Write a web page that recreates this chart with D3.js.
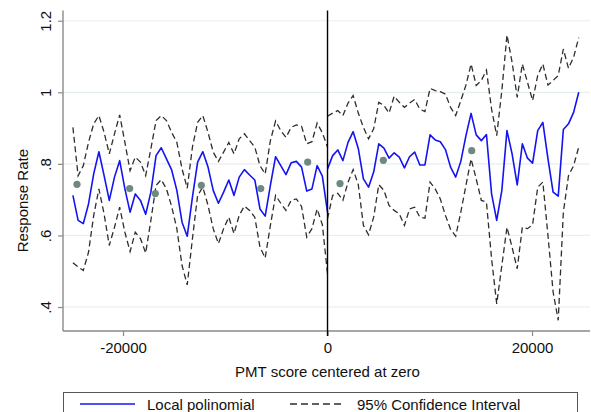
<!DOCTYPE html>
<html>
<head>
<meta charset="utf-8">
<script src="https://cdn.jsdelivr.net/npm/d3@7"></script>
<style>
  html, body { margin: 0; padding: 0; background: #ffffff; }
  svg { display: block; font-family: "Liberation Sans", Arial, sans-serif; }
</style>
</head>
<body>
<svg id="chart" width="591" height="412"></svg>
<script>
// Evaluation grid of the local polynomial, left of the cutoff
const leftX = [-24900,-24392,-23884,-23375,-22867,-22359,-21851,-21343,-20834,-20326,
  -19818,-19310,-18802,-18293,-17785,-17277,-16769,-16261,-15752,-15244,
  -14736,-14228,-13720,-13211,-12703,-12195,-11687,-11179,-10670,-10162,
  -9654,-9146,-8638,-8129,-7621,-7113,-6605,-6097,-5588,-5080,
  -4572,-4064,-3556,-3047,-2539,-2031,-1523,-1015,-506,0];
const leftFit = [.712,.642,.633,.688,.772,.834,.767,.698,.763,.809,
  .730,.665,.716,.698,.659,.721,.823,.845,.814,.783,
  .726,.637,.598,.707,.805,.834,.791,.726,.690,.721,
  .755,.712,.763,.784,.769,.755,.674,.654,.740,.820,
  .795,.770,.803,.807,.791,.724,.730,.795,.766,.665];
const leftHi = [.902,.767,.795,.860,.912,.935,.888,.828,.884,.937,
  .860,.781,.819,.805,.767,.842,.921,.935,.921,.888,
  .860,.786,.732,.847,.916,.935,.888,.833,.807,.833,
  .860,.828,.870,.884,.865,.847,.795,.772,.865,.920,
  .893,.874,.902,.909,.905,.856,.862,.914,.887,.847];
const leftLo = [.524,.512,.502,.553,.656,.730,.660,.572,.623,.679,
  .609,.555,.609,.591,.551,.642,.740,.756,.730,.681,
  .619,.516,.462,.591,.712,.735,.684,.619,.577,.619,
  .651,.605,.656,.682,.670,.651,.567,.537,.628,.712,
  .690,.670,.698,.702,.681,.595,.619,.674,.630,.493];

// Evaluation grid right of the cutoff
const rightX = [0,501,1003,1504,2006,2507,3008,3510,4011,4513,
  5014,5515,6017,6518,7020,7521,8022,8524,9025,9527,
  10028,10529,11031,11532,12034,12535,13036,13538,14039,14541,
  15042,15543,16045,16546,17048,17549,18050,18552,19053,19555,
  20056,20557,21059,21560,22062,22563,23064,23566,24067,24569];
const rightFit = [.786,.823,.839,.809,.860,.890,.843,.758,.735,.777,
  .856,.844,.816,.831,.819,.789,.820,.833,.797,.797,
  .881,.867,.862,.840,.791,.763,.807,.879,.941,.881,
  .865,.882,.716,.642,.726,.893,.828,.741,.856,.816,
  .802,.893,.916,.814,.721,.710,.896,.912,.944,1.000];
const rightHi = [.933,.942,.949,.935,.970,.991,.942,.902,.870,.898,
  .972,.963,.942,.989,.972,.958,.970,.980,.953,.946,
  1.011,1.005,1.002,.995,.958,.935,.977,1.020,1.079,1.019,
  1.033,1.062,.953,.879,1.005,1.160,1.084,.986,1.079,1.028,
  .977,1.047,1.079,1.020,1.033,1.047,1.121,1.067,1.098,1.153];
const rightLo = [.647,.712,.718,.698,.749,.784,.742,.628,.602,.651,
  .742,.726,.684,.670,.660,.628,.674,.679,.651,.648,
  .749,.730,.702,.656,.617,.598,.665,.740,.814,.758,
  .698,.693,.535,.409,.516,.623,.567,.507,.623,.619,
  .630,.735,.749,.600,.442,.363,.665,.767,.795,.847];

// Binned means
const binX = [-24500,-19350,-16840,-12340,-6530,-1940,1220,5460,14100];
const binY = [.743,.731,.717,.740,.731,.805,.745,.810,.837];

// Axis ticks
const xTicks = [-20000, 0, 20000];
const yTicks = [.4, .6, .8, 1, 1.2];
const yTickLabels = [".4", ".6", ".8", "1", "1.2"];

const svg = d3.select("#chart");

const x = d3.scaleLinear().domain([-25870, 25670]).range([63, 590]);
const y = d3.scaleLinear().domain([0.333, 1.2286]).range([331, 10.5]);

const axisGrey = "#8a8a8a";

// horizontal grid lines
svg.append("g").selectAll("line").data(yTicks).join("line")
  .attr("x1", x.range()[0]).attr("x2", x.range()[1])
  .attr("y1", d => y(d)).attr("y2", d => y(d))
  .attr("stroke", "#e6eef2").attr("stroke-width", 1.2);

const pairs = (xs, ys) => xs.map((v, i) => [v, ys[i]]);
const line = d3.line().x(d => x(d[0])).y(d => y(d[1]));

const plot = svg.append("g");

// confidence bands
[[leftX, leftHi], [leftX, leftLo], [rightX, rightHi], [rightX, rightLo]].forEach(([xs, ys]) => {
  plot.append("path")
    .attr("d", line(pairs(xs, ys)))
    .attr("fill", "none")
    .attr("stroke", "#2e2e2e")
    .attr("stroke-width", 1.3)
    .attr("stroke-dasharray", "6,3.5");
});

// fitted local polynomial
[[leftX, leftFit], [rightX, rightFit]].forEach(([xs, ys]) => {
  plot.append("path")
    .attr("d", line(pairs(xs, ys)))
    .attr("fill", "none")
    .attr("stroke", "#1414f0")
    .attr("stroke-width", 1.6)
    .attr("stroke-linejoin", "round");
});

// binned means
plot.selectAll("circle").data(binX).join("circle")
  .attr("cx", d => x(d))
  .attr("cy", (d, i) => y(binY[i]))
  .attr("r", 3.6)
  .attr("fill", "#6e8a7f");

// y axis
const yAxis = d3.axisLeft(y).tickValues(yTicks)
  .tickFormat((d, i) => yTickLabels[i]).tickSize(5).tickPadding(0);
const gy = svg.append("g").attr("transform", "translate(63,0)").call(yAxis);
gy.select(".domain").attr("stroke", axisGrey).attr("stroke-width", 1.4)
  .attr("d", `M0,${y.range()[1]}V${y.range()[0]}`);
gy.selectAll(".tick line").attr("stroke", axisGrey).attr("stroke-width", 1.2);
gy.selectAll(".tick text")
  .attr("x", 0).attr("y", 0).attr("dy", 0)
  .attr("text-anchor", "middle")
  .attr("transform", "translate(-12,0) rotate(-90)")
  .attr("font-size", 15).attr("fill", "#111")
  .attr("font-family", "Liberation Sans, Arial, sans-serif");

// x axis
const xAxis = d3.axisBottom(x).tickValues(xTicks).tickFormat(d3.format("d")).tickSize(5).tickPadding(6);
const gx = svg.append("g").attr("transform", "translate(0,331)").call(xAxis);
gx.select(".domain").attr("stroke", axisGrey).attr("stroke-width", 1.4)
  .attr("d", `M${x.range()[0]},0H${x.range()[1]}`);
gx.selectAll(".tick line").attr("stroke", axisGrey).attr("stroke-width", 1.2);
gx.selectAll(".tick text")
  .attr("font-size", 15).attr("fill", "#111")
  .attr("font-family", "Liberation Sans, Arial, sans-serif")
  .text(d => d < 0 ? "-" + Math.abs(d) : String(d));

// cutoff line
svg.append("line")
  .attr("x1", x(0)).attr("x2", x(0))
  .attr("y1", y.range()[1]).attr("y2", y.range()[0] + 5)
  .attr("stroke", "#000").attr("stroke-width", 1.4);

// axis titles
svg.append("text")
  .attr("x", (x.range()[0] + x.range()[1]) / 2 + 1).attr("y", 377)
  .attr("text-anchor", "middle").attr("font-size", 15).attr("fill", "#111")
  .text("PMT score centered at zero");

svg.append("text")
  .attr("transform", `translate(28,${(y(0.4) + y(1.0)) / 2 + 1}) rotate(-90)`)
  .attr("text-anchor", "middle").attr("font-size", 15).attr("fill", "#111")
  .text("Response Rate");

// legend
const lg = svg.append("g");
lg.append("rect").attr("x", 63.5).attr("y", 392.5).attr("width", 514).attr("height", 40)
  .attr("fill", "#fff").attr("stroke", "#555").attr("stroke-width", 1);
lg.append("line").attr("x1", 80).attr("x2", 135).attr("y1", 404).attr("y2", 404)
  .attr("stroke", "#1414f0").attr("stroke-width", 1.6);
lg.append("text").attr("x", 147).attr("y", 409.5).attr("font-size", 15).attr("fill", "#111")
  .text("Local polinomial");
lg.append("line").attr("x1", 290).attr("x2", 345).attr("y1", 404).attr("y2", 404)
  .attr("stroke", "#2e2e2e").attr("stroke-width", 1.3).attr("stroke-dasharray", "7,4");
lg.append("text").attr("x", 357).attr("y", 409.5).attr("font-size", 15).attr("fill", "#111")
  .text("95% Confidence Interval");
</script>
</body>
</html>
